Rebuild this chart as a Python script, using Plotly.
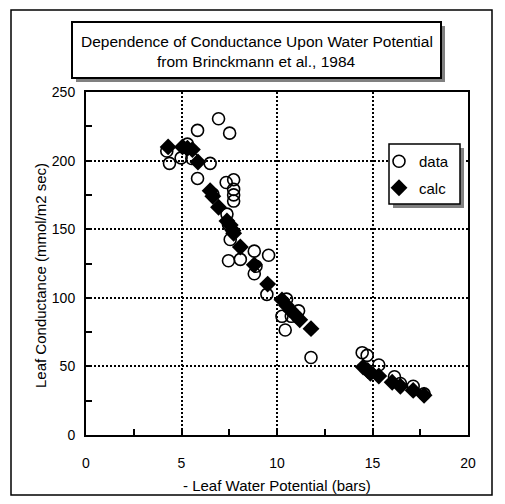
import plotly.graph_objects as go

# ---- data ----
data_x = [4.23, 4.37, 4.98, 5.31, 5.54, 5.84, 5.84, 6.50, 6.64, 6.94, 7.34, 7.38, 7.46, 7.46,
          7.52, 7.55, 7.73, 7.73, 7.73, 7.73, 8.08, 8.81, 8.81, 8.90, 9.56, 9.47, 10.26, 10.43,
          10.50, 10.75, 11.13, 11.78, 14.46, 14.72, 15.33, 16.15, 16.46, 17.13, 17.70]
data_y = [207, 198, 202, 212, 201.5, 222, 187, 198, 175.5, 230.5, 184, 161, 153.5, 127,
          220, 142.5, 186, 179, 175, 170.5, 128, 134, 117.5, 123, 131, 102.5, 86.5, 76.5,
          99, 86.5, 90.5, 56.5, 60, 58, 51, 42.5, 37.5, 35.5, 30]

calc_x = [4.30, 5.05, 5.31, 5.57, 5.86, 6.50, 6.64, 6.94, 7.38, 7.55, 7.69, 7.73, 8.08, 8.81,
          9.51, 10.26, 10.49, 10.70, 10.96, 11.19, 11.78, 14.51, 14.75, 14.89, 15.33, 16.03,
          16.46, 17.13, 17.70]
calc_y = [210, 210, 209, 208, 199, 178, 174, 166, 156, 153, 149, 147, 137, 124,
          110, 98.5, 94.5, 91, 87.5, 84, 77.5, 49.5, 47, 45, 43, 38.5,
          35.5, 32.5, 29]

title_lines = ["Dependence of Conductance Upon Water Potential", "from Brinckmann et al., 1984"]
x_title = "- Leaf Water Potential (bars)"
y_title = "Leaf Conductance (mmol/m2 sec)"
x_ticks = [0, 5, 10, 15, 20]
y_ticks = [0, 50, 100, 150, 200, 250]

FONT = "Liberation Sans, Arial, sans-serif"
OFF = 8                      # page body margin of the html output
W, H = 505, 504
# plot area in reference pixels: x 86..468, y 92..435
L, R, T, B = 86 - OFF, W - (468 - OFF), 92 - OFF, H - (435 - OFF)
PW, PH = W - L - R, H - T - B


def px(x):
    return (x - OFF - L) / PW


def py(y):
    return (H - B - (y - OFF)) / PH


fig = go.Figure()
fig.add_trace(go.Scatter(x=data_x, y=data_y, mode="markers", name="data", legendgroup="a",
                         marker=dict(symbol="circle-open", size=12, color="black",
                                     line=dict(width=1.6, color="black"))))
fig.add_trace(go.Scatter(x=calc_x, y=calc_y, mode="markers", name="calc", legendgroup="b",
                         marker=dict(symbol="diamond", size=13, color="black",
                                     line=dict(width=0))))

shapes = []
# outer chart frame
shapes.append(dict(type="rect", xref="paper", yref="paper", x0=px(11), x1=px(492),
                   y0=py(495), y1=py(10), line=dict(color="black", width=1.5), layer="below"))
# title box shadow + box
shapes.append(dict(type="rect", xref="paper", yref="paper", x0=px(76), x1=px(445),
                   y0=py(82), y1=py(26), fillcolor="#808080", line=dict(width=0), layer="above"))
shapes.append(dict(type="rect", xref="paper", yref="paper", x0=px(72), x1=px(441),
                   y0=py(78), y1=py(22), fillcolor="white",
                   line=dict(color="black", width=2), layer="above"))
# legend box shadow + box
shapes.append(dict(type="rect", xref="paper", yref="paper", x0=px(393), x1=px(464),
                   y0=py(208), y1=py(148), fillcolor="#808080", line=dict(width=0), layer="above"))
shapes.append(dict(type="rect", xref="paper", yref="paper", x0=px(389), x1=px(460),
                   y0=py(204), y1=py(144), fillcolor="white",
                   line=dict(color="black", width=1.5), layer="above"))

annotations = [
    dict(text=title_lines[0], xref="paper", yref="paper", x=px(256.5), y=py(41),
         showarrow=False, font=dict(family=FONT, size=15.5, color="black"),
         xanchor="center", yanchor="middle"),
    dict(text=title_lines[1], xref="paper", yref="paper", x=px(256.5), y=py(62),
         showarrow=False, font=dict(family=FONT, size=15.5, color="black"),
         xanchor="center", yanchor="middle"),
    dict(text=x_title, xref="paper", yref="paper", x=px(277), y=py(485),
         showarrow=False, font=dict(family=FONT, size=15, color="black"),
         xanchor="center", yanchor="middle"),
    dict(text=y_title, xref="paper", yref="paper", x=px(40), y=py(276),
         showarrow=False, textangle=-90, font=dict(family=FONT, size=15, color="black"),
         xanchor="center", yanchor="middle"),
]

axis_common = dict(
    showline=True, linecolor="black", linewidth=2, mirror=True,
    ticks="inside", ticklen=6, tickwidth=2, tickcolor="black",
    showgrid=True, gridcolor="black", gridwidth=2, griddash="2px,2px",
    zeroline=False, tickfont=dict(family=FONT, size=14, color="black"),
)

fig.update_xaxes(range=[0, 20], tickvals=x_ticks, ticklabelstandoff=14,
                 minor=dict(dtick=2.5, ticks="inside", ticklen=6, tickwidth=2,
                            tickcolor="black", showgrid=False),
                 **axis_common)
fig.update_yaxes(range=[0, 250], tickvals=y_ticks, ticklabelstandoff=6,
                 minor=dict(dtick=25, ticks="inside", ticklen=6, tickwidth=2,
                            tickcolor="black", showgrid=False),
                 **axis_common)

fig.update_layout(
    width=W, height=H, margin=dict(l=L, r=R, t=T, b=B),
    paper_bgcolor="white", plot_bgcolor="white",
    shapes=shapes, annotations=annotations,
    showlegend=True,
    legend=dict(x=px(379), y=py(145), xanchor="left", yanchor="top",
                bgcolor="rgba(0,0,0,0)", borderwidth=0,
                font=dict(family=FONT, size=15, color="black"),
                traceorder="grouped", tracegroupgap=4),
)

fig.write_html("out.html")
